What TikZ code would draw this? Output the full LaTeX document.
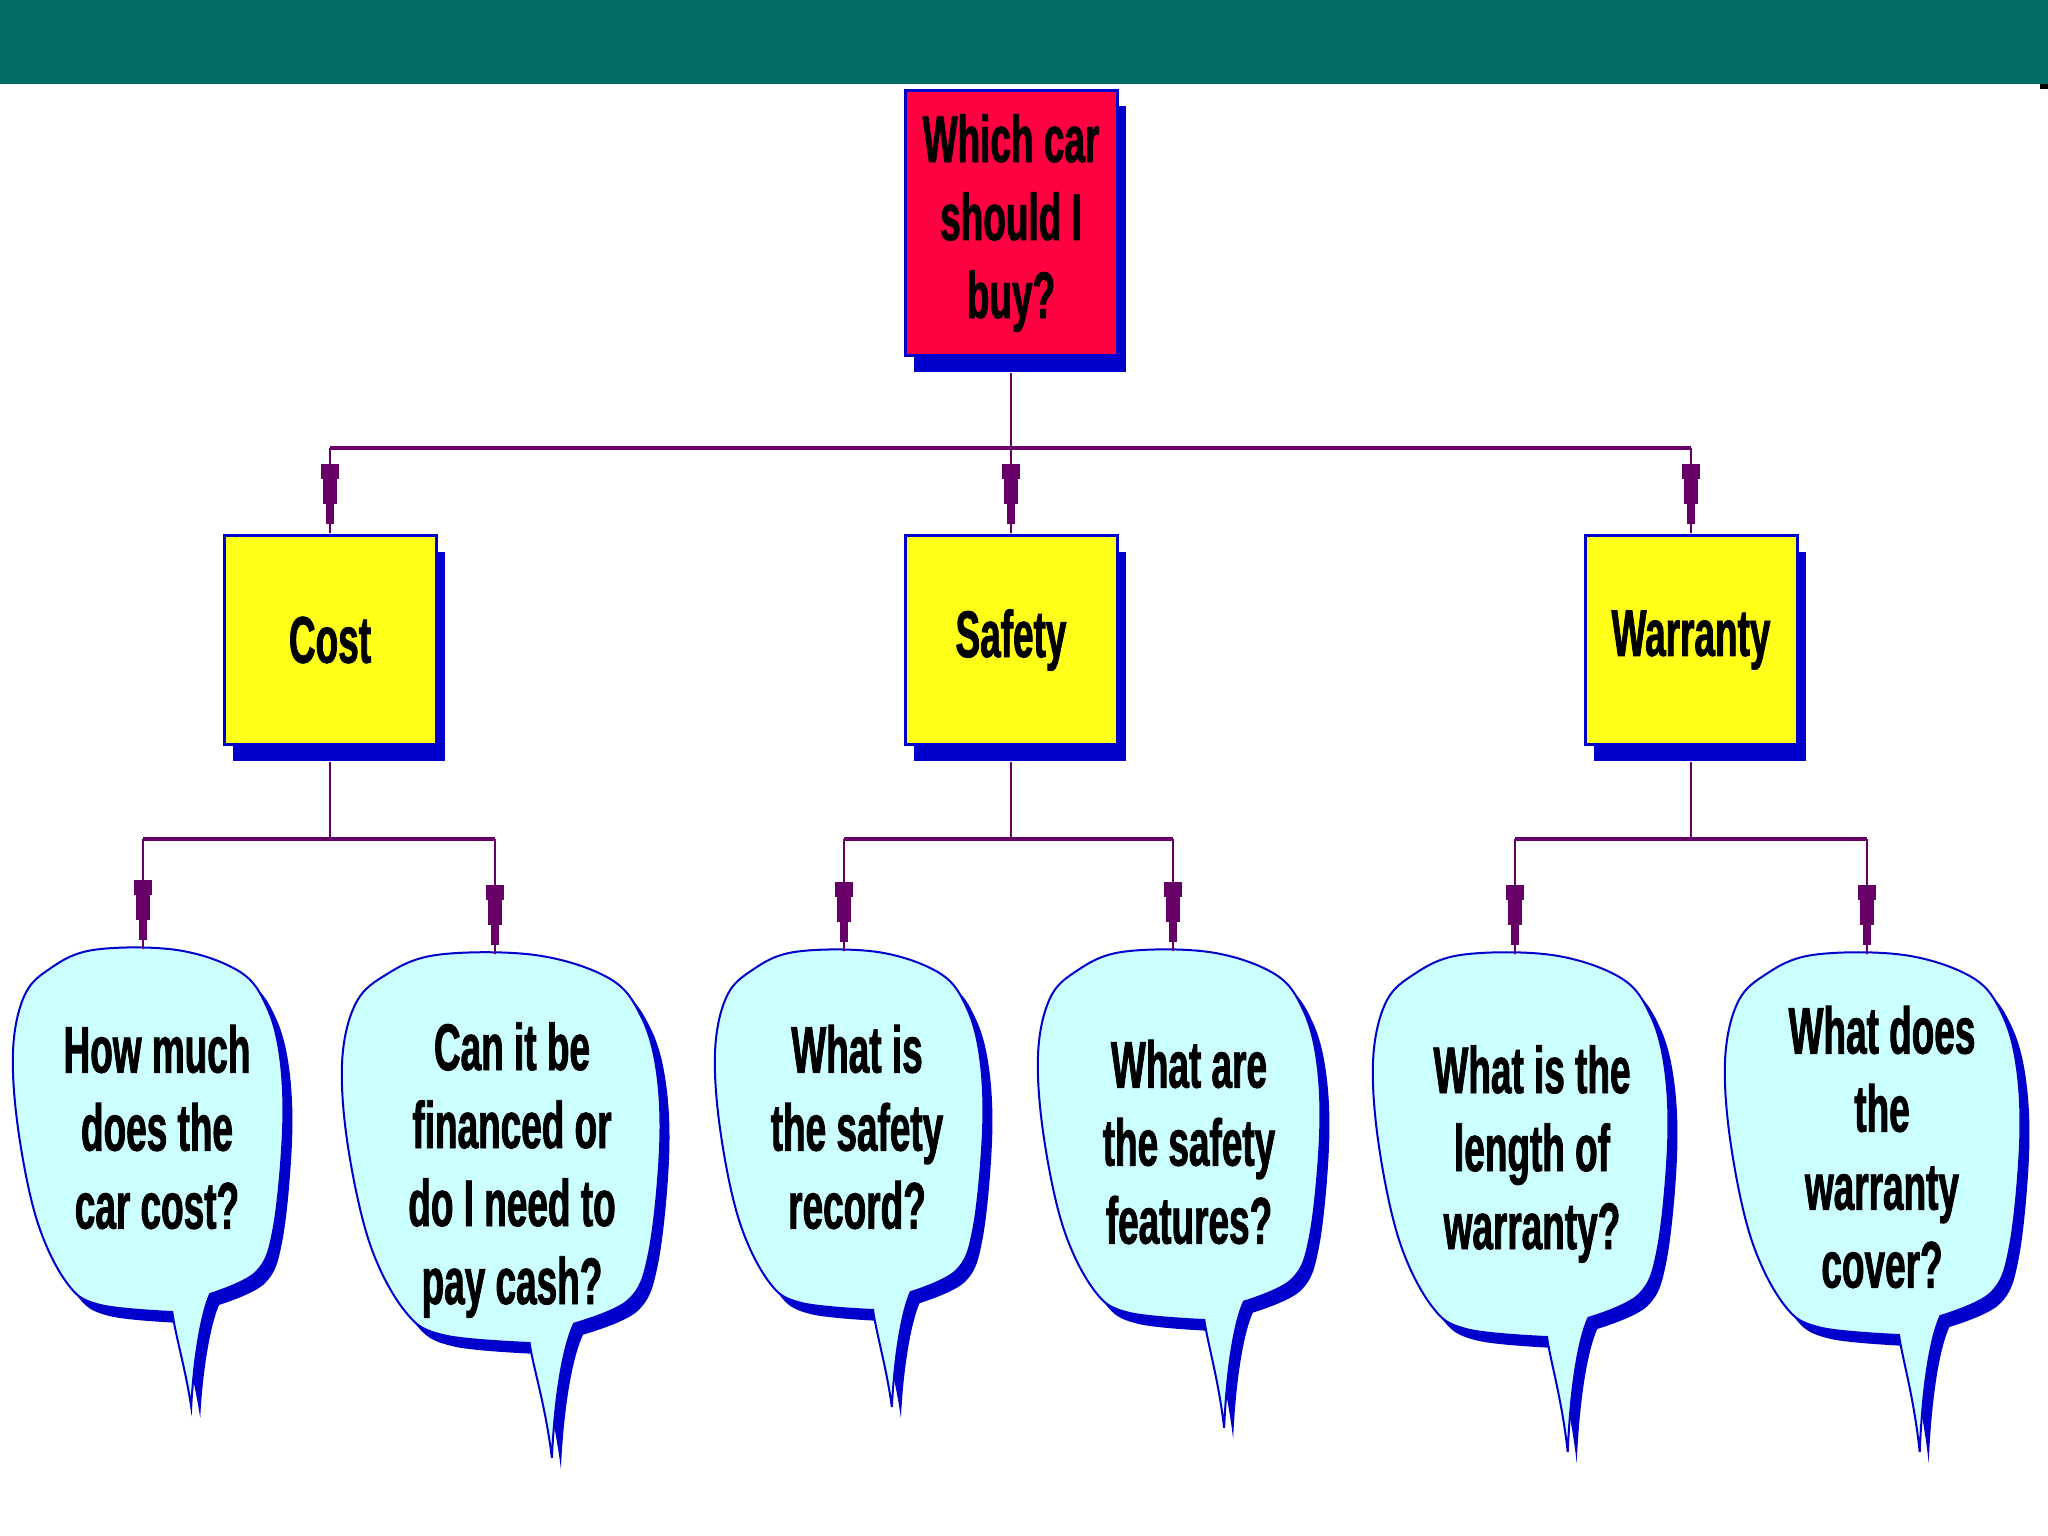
\documentclass[tikz,border=0pt]{standalone}
\usepackage{fontspec}
\newfontfamily\chartfont{Liberation Sans}[FakeStretch=0.56, FakeBold=1.2]
\usetikzlibrary{arrows.meta,shadows}

\definecolor{barteal}{HTML}{036D68}
\definecolor{edgeblue}{HTML}{0000CC}
\definecolor{rootred}{HTML}{FF0040}
\definecolor{topicyellow}{HTML}{FFFF1A}
\definecolor{bubblecyan}{HTML}{CCFFFF}
\definecolor{linkpurple}{HTML}{660066}

% outline of a speech bubble in the unit box, #1 = depth of the tail
\newcommand\bubbleline[1]{plot[smooth, tension=0.6] coordinates {(0.59,1.0) (0.32,0.98) (0.2,0.92) (0.09,0.75) (0.02,0.5) (0,0.28) (0.04,0.13) (0.13,0.055) (0.296,0) (0.607,0) (0.84,0.06) (0.94,0.157) (0.99,0.3) (1,0.5) (0.965,0.77) (0.9,0.89) (0.73,0.95)} .. controls (0.70,1.0) and (0.67,1.12) .. (0.66,#1) .. controls (0.64,1.16) and (0.60,1.06) .. (0.59,1.0) -- cycle}

% #1 name of the top point, #2,#3 top left corner, #4,#5 size, #6 tail
\newcommand\speechbubble[6]{%
\fill[edgeblue, shift={(#2+9,#3+11)}, xscale=#4, yscale=#5] \bubbleline{#6};
\filldraw[fill=bubblecyan, draw=edgeblue, line width=2pt, shift={(#2,#3)}, xscale=#4, yscale=#5] \bubbleline{#6};
\coordinate (#1) at (#2+0.48*#4,#3);
}

\begin{document}
\begin{tikzpicture}[x=1pt, y=-1pt,
  chart/.style={font=\chartfont\bfseries\fontsize{66}{78}\selectfont, align=center, text=black},
  boxed/.style={chart, draw=edgeblue, line width=3pt, minimum width=212pt, inner sep=0pt,
    drop shadow={shadow xshift=9pt, shadow yshift=-16pt, fill=edgeblue, opacity=1}},
  rootbox/.style={boxed, fill=rootred, minimum height=265pt},
  topicbox/.style={boxed, fill=topicyellow, minimum height=209pt},
  stem/.style={draw=linkpurple, line width=2pt, shorten <=16pt},
  bus/.style={draw=linkpurple, line width=4pt},
  feed/.style={draw=linkpurple, line width=2pt,
    -{Rectangle[length=15pt,width=18pt]Rectangle[length=25pt,width=14pt]Rectangle[length=20pt,width=8pt]Rectangle[length=10pt,width=2pt]}}]
\useasboundingbox (0,0) rectangle (2048,1536);
\fill[barteal] (0,0) rectangle (2048,84);
\fill[black] (2040,84) rectangle (2048,89);

% bubbles
\speechbubble{howtop}{13}{950}{270}{362}{1.262}
\speechbubble{fintop}{342}{955}{318}{388}{1.296}
\speechbubble{rectop}{715}{952}{268}{358}{1.271}
\speechbubble{feattop}{1038}{952}{282}{368}{1.293}
\speechbubble{lentop}{1373}{955}{295}{382}{1.301}
\speechbubble{covtop}{1725}{955}{295}{380}{1.308}

\node[rootbox] (buy) at (1011,223) {Which car\\should I\\buy?};
\node[topicbox] (cost) at (330,640) {Cost};
\node[topicbox] (safety) at (1011,640) {Safety};
\node[topicbox] (warranty) at (1691,640) {Warranty};

\node[chart] (howmuch) at (157,1127) {How much\\does the\\car cost?};
\node[chart] (finance) at (512,1170) {Can it be\\financed or\\do I need to\\pay cash?};
\node[chart] (record) at (857,1127) {What is\\the safety\\record?};
\node[chart] (features) at (1189,1142) {What are\\the safety\\features?};
\node[chart] (length) at (1532,1154) {What is the\\length of\\warranty?};
\node[chart] (cover) at (1882,1147) {What does\\the\\warranty\\cover?};

% links
\coordinate (rootbus) at (1011,448);
\draw[stem] (buy) -- (rootbus);
\draw[bus] (rootbus -| cost) -- (rootbus -| warranty);
\foreach \t in {cost,safety,warranty}
  \draw[feed] (rootbus -| \t) -- (\t);

\coordinate (costbus) at (330,839);
\coordinate (safetybus) at (1011,839);
\coordinate (warrantybus) at (1691,839);
\draw[stem] (cost) -- (costbus);
\draw[stem] (safety) -- (safetybus);
\draw[stem] (warranty) -- (warrantybus);
\draw[bus] (costbus -| howtop) -- (costbus -| fintop);
\draw[bus] (safetybus -| rectop) -- (safetybus -| feattop);
\draw[bus] (warrantybus -| lentop) -- (warrantybus -| covtop);
\foreach \b/\q in {costbus/howtop,costbus/fintop,safetybus/rectop,safetybus/feattop,warrantybus/lentop,warrantybus/covtop}
  \draw[feed] (\b -| \q) -- (\q);
\end{tikzpicture}
\end{document}
